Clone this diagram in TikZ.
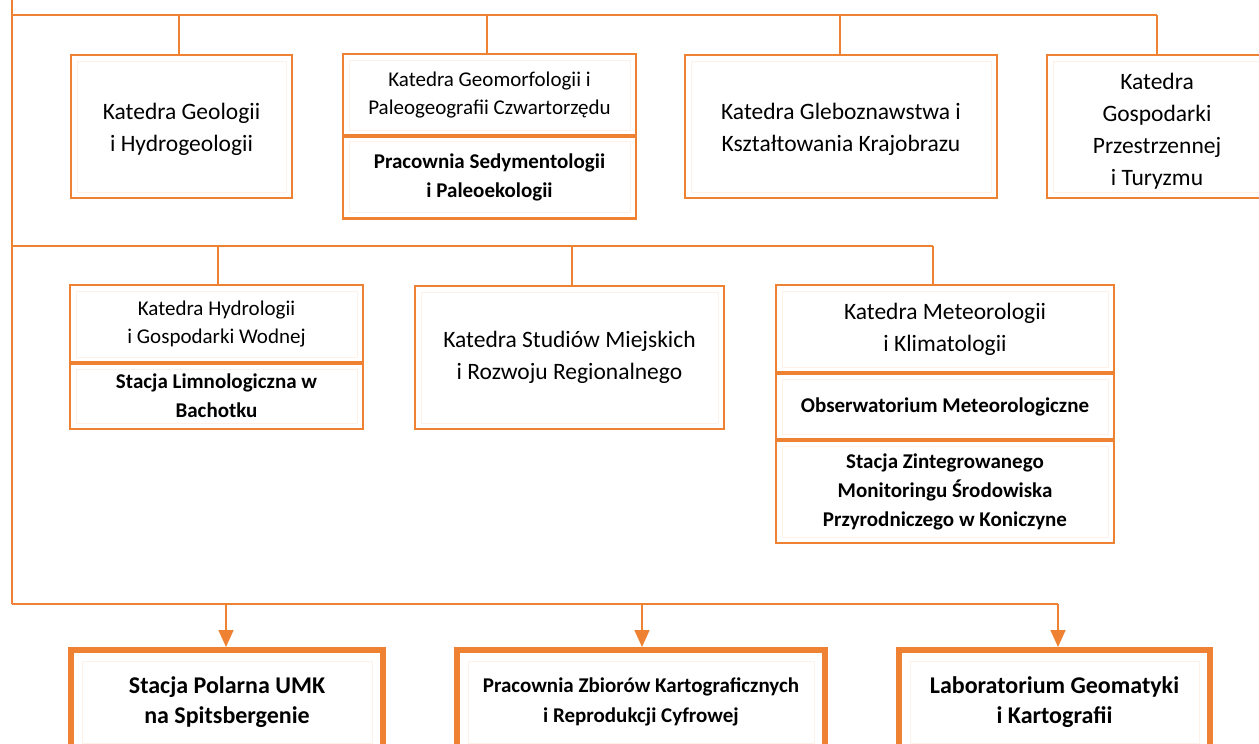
\documentclass[tikz,border=0pt]{standalone}
\usepackage{fontspec}
\setmainfont{Carlito}
\usetikzlibrary{arrows.meta}
\definecolor{org}{RGB}{238,130,50}
\tikzset{
  conn/.style={draw=org, line width=1.6pt},
  box/.style={draw=org, line width=2.8pt, fill=white, align=center, inner sep=0pt, outer sep=0pt, text=black, font=\fontsize{23.5}{32}\selectfont},
  label/.style={align=center, inner sep=0pt, text=black, font=\fontsize{23.5}{32}\selectfont},
  subhead/.style={box, font=\fontsize{21}{28}\selectfont},
  subunit/.style={box, font=\bfseries\fontsize{21}{29}\selectfont},
  unit/.style={box, line width=5.5pt, font=\bfseries\fontsize{24}{30}\selectfont},
  divider/.style={draw=org, line width=4.5pt},
  inframe/.style={draw=org!11, line width=1pt},
  arr/.style={conn, -{Triangle[length=17pt,width=15pt]}, shorten >=1pt},
}
\begin{document}
\begin{tikzpicture}[x=1pt,y=-1pt]
\path[use as bounding box] (0,0) rectangle (1259,744);
\clip (0,0) rectangle (1259,744);

% top row
\node[box, minimum width=221pt, minimum height=143pt] (b1) at (181.5,126.5) {};
\node[label] (b1t) at (181.5,129.5) {Katedra Geologii\\i Hydrogeologii};
\node[subhead, minimum width=293pt, minimum height=82pt] (b2a) at (489.5,95) {Katedra Geomorfologii i\\Paleogeografii Czwartorzędu};
\node[subunit, minimum width=293pt, minimum height=83pt] (b2b) at (489.5,177) {Pracownia Sedymentologii\\i Paleoekologii};
\node[box, minimum width=312pt, minimum height=143pt] (b3) at (841,126.5) {};
\node[label] (b3t) at (841,129) {Katedra Gleboznawstwa i\\Kształtowania Krajobrazu};
\node[box, minimum width=220pt, minimum height=143pt] (b4) at (1157,126.5) {};
\node[label] (b4t) at (1157,131) {Katedra\\Gospodarki\\Przestrzennej\\i Turyzmu};

% second row
\node[subhead, minimum width=293pt, minimum height=78pt] (b5a) at (216.5,324) {Katedra Hydrologii\\i Gospodarki Wodnej};
\node[subunit, minimum width=293pt, minimum height=66pt] (b5b) at (216.5,396) {Stacja Limnologiczna w\\Bachotku};
\node[box, minimum width=309pt, minimum height=143pt] (b6) at (569.5,357.5) {Katedra Studiów Miejskich\\i Rozwoju Regionalnego};
\node[box, minimum width=338pt, minimum height=88pt] (b7a) at (945,329) {Katedra Meteorologii\\i Klimatologii};
\node[subunit, minimum width=338pt, minimum height=67pt] (b7b) at (945,406.5) {Obserwatorium Meteorologiczne};
\node[subunit, minimum width=338pt, minimum height=103pt] (b7c) at (945,491.5) {Stacja Zintegrowanego\\Monitoringu Środowiska\\Przyrodniczego w Koniczyne};

% dividers
\draw[divider] (b2a.south west) -- (b2a.south east);
\draw[divider] (b5a.south west) -- (b5a.south east);
\draw[divider] (b7a.south west) -- (b7a.south east);
\draw[divider] (b7b.south west) -- (b7b.south east);

% bottom row
\node[unit, minimum width=312pt, minimum height=104pt] (u1) at (227,702) {Stacja Polarna UMK\\na Spitsbergenie};
\node[unit, minimum width=368pt, minimum height=104pt, font=\bfseries\fontsize{21}{30}\selectfont] (u2) at (641,702) {Pracownia Zbiorów Kartograficznych\\i Reprodukcji Cyfrowej};
\node[unit, minimum width=311pt, minimum height=104pt] (u3) at (1054.5,702) {Laboratorium Geomatyki\\i Kartografii};

% faint inner frames
\foreach \n in {b1,b2a,b2b,b3,b4,b5a,b5b,b6,b7a,b7b,b7c}
  \draw[inframe] ([shift={(6pt,-6pt)}]\n.north west) rectangle ([shift={(-6pt,6pt)}]\n.south east);
\foreach \n in {u1,u2,u3}
  \draw[inframe] ([shift={(11pt,-11pt)}]\n.north west) rectangle ([shift={(-11pt,11pt)}]\n.south east);

% connector skeleton
\coordinate (top) at (12,0);
\coordinate (h1L) at (12,15);
\coordinate (h2L) at (12,246);
\coordinate (h3L) at (12,604);
\coordinate (c1) at (179,15);
\coordinate (c2) at (487,15);
\coordinate (c3) at (840,15);
\coordinate (c4) at (1157,15);
\coordinate (c5) at (218,246);
\coordinate (c6) at (572,246);
\coordinate (c7) at (933,246);
\coordinate (a1) at (226,604);
\coordinate (a2) at (642,604);
\coordinate (a3) at (1058,604);

\draw[conn] (top) -- (h3L);
\draw[conn] (h1L) -- (c4);
\draw[conn] (h2L) -- (c7);
\draw[conn] (h3L) -- (a3);

\draw[conn] (c1) -- (c1 |- b1.north);
\draw[conn] (c2) -- (c2 |- b2a.north);
\draw[conn] (c3) -- (c3 |- b3.north);
\draw[conn] (c4) -- (c4 |- b4.north);
\draw[conn] (c5) -- (c5 |- b5a.north);
\draw[conn] (c6) -- (c6 |- b6.north);
\draw[conn] (c7) -- (c7 |- b7a.north);

\draw[arr] (a1) -- ([yshift=2pt]a1 |- u1.north);
\draw[arr] (a2) -- ([yshift=2pt]a2 |- u2.north);
\draw[arr] (a3) -- ([yshift=2pt]a3 |- u3.north);
\end{tikzpicture}
\end{document}
